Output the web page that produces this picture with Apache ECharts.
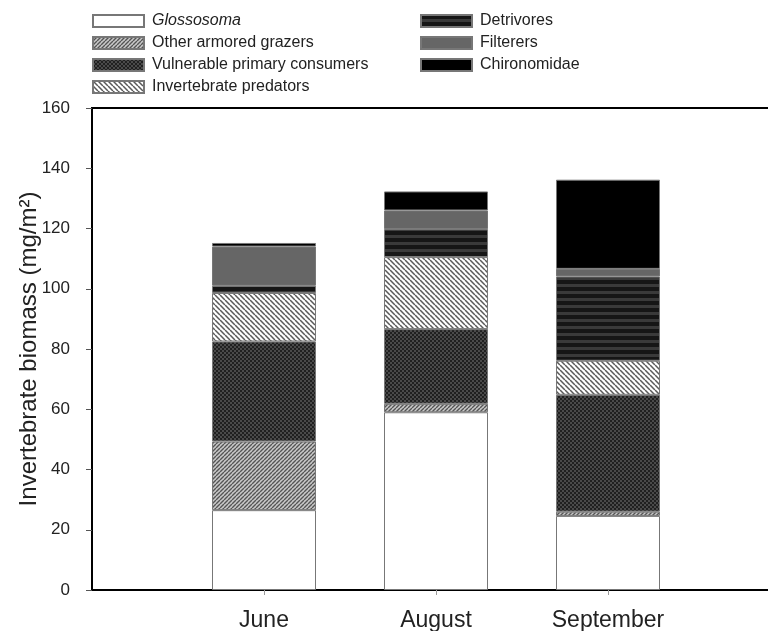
<!DOCTYPE html>
<html>
<head>
<meta charset="utf-8">
<script src="https://cdn.jsdelivr.net/npm/echarts@6/dist/echarts.min.js"></script>
<style>
  html, body { margin: 0; padding: 0; background: #fff; }
  #chart { width: 768px; height: 631px; }
</style>
</head>
<body>
<div id="chart"></div>
<script>
  // data (mg/m2)
  var months = ['June', 'August', 'September']
  var glossosoma = [26.5, 59.0, 24.6]
  var otherGrazers = [22.8, 2.8, 1.4]
  var vulnerable = [33.2, 24.8, 38.8]
  var predators = [16.1, 23.9, 11.3]
  var detrivores = [2.4, 9.3, 28.0]
  var filterers = [13.0, 6.2, 2.5]
  var chironomidae = [1.2, 6.3, 29.6]
  var yTicks = [0, 20, 40, 60, 80, 100, 120, 140, 160]

  var FONT = '"Liberation Sans", Arial, Helvetica, sans-serif'

  // small canvas tiles used as fill patterns
  function tile(w, h, draw) {
    var c = document.createElement('canvas')
    c.width = w
    c.height = h
    var ctx = c.getContext('2d')
    draw(ctx, w, h)
    return {image: c, repeat: 'repeat'}
  }

  // diagonal lines, dir 1 = "/", dir -1 = "\"
  function diag(bg, fg, s, lw, dir) {
    return tile(s, s, function (ctx, w, h) {
      ctx.fillStyle = bg
      ctx.fillRect(0, 0, w, h)
      ctx.strokeStyle = fg
      ctx.lineWidth = lw
      ctx.beginPath()
      for (var k = -1; k <= 1; k++) {
        if (dir > 0) {
          ctx.moveTo(k * s, s)
          ctx.lineTo(k * s + s, 0)
        } else {
          ctx.moveTo(k * s, 0)
          ctx.lineTo(k * s + s, s)
        }
      }
      ctx.stroke()
    })
  }

  var patGrazers = diag('#c9c9c9', '#555', 4, 1.4, 1)
  var patPredators = diag('#ffffff', '#5a5a5a', 5, 1.5, -1)
  var patVulnerable = tile(4, 4, function (ctx) {
    ctx.fillStyle = '#202020'
    ctx.fillRect(0, 0, 4, 4)
    ctx.fillStyle = '#4a4a4a'
    ctx.fillRect(0, 0, 2, 2)
    ctx.fillRect(2, 2, 2, 2)
  })
  var patDetrivores = tile(4, 7, function (ctx) {
    ctx.fillStyle = '#161616'
    ctx.fillRect(0, 0, 4, 7)
    ctx.fillStyle = '#3a3a3a'
    ctx.fillRect(0, 4, 4, 3)
  })

  // category axis padded with empty slots so the bars sit at 1,2,3 of 0..4
  var cats = [''].concat(months).concat([''])
  function pad(arr) {
    return [null].concat(arr).concat([null])
  }

  function barSeries(name, data, fill) {
    return {
      name: name,
      type: 'bar',
      stack: 'total',
      barWidth: 104,
      data: pad(data),
      itemStyle: {
        color: fill,
        borderColor: '#777',
        borderWidth: 1
      },
      emphasis: {disabled: true}
    }
  }

  var legendText = {
    fontFamily: FONT,
    fontSize: 16,
    color: '#222',
    lineHeight: 16,
    padding: [0, 0, 0, 3],
    rich: {
      i: {fontFamily: FONT, fontSize: 16, fontStyle: 'italic', color: '#222'}
    }
  }
  function legendFmt(name) {
    return name === 'Glossosoma' ? '{i|' + name + '}' : name
  }

  var myChart = echarts.init(document.getElementById('chart'))
  var option = {
    animation: false,
    textStyle: {fontFamily: FONT},
    legend: [{
      orient: 'vertical',
      left: 87,
      top: 8,
      icon: 'rect',
      itemWidth: 51,
      itemHeight: 12,
      itemGap: 6,
      selectedMode: false,
      formatter: legendFmt,
      textStyle: legendText,
      data: ['Glossosoma', 'Other armored grazers', 'Vulnerable primary consumers', 'Invertebrate predators']
    }, {
      orient: 'vertical',
      left: 415,
      top: 8,
      icon: 'rect',
      itemWidth: 51,
      itemHeight: 12,
      itemGap: 6,
      selectedMode: false,
      textStyle: legendText,
      data: ['Detrivores', 'Filterers', 'Chironomidae']
    }],
    grid: {
      left: 92,
      width: 688,
      top: 108,
      bottom: 41,
      show: true,
      borderColor: '#000',
      borderWidth: 2,
      containLabel: false,
      outerBoundsMode: 'none'
    },
    xAxis: {
      type: 'category',
      data: cats,
      boundaryGap: false,
      axisLine: {lineStyle: {color: '#000', width: 2}},
      axisTick: {
        show: true,
        length: 5,
        interval: function (index, value) { return value !== '' },
        lineStyle: {color: '#999'}
      },
      axisLabel: {
        interval: 0,
        margin: 19,
        fontSize: 23,
        color: '#222',
        fontFamily: FONT
      },
      splitLine: {show: false}
    },
    yAxis: {
      type: 'value',
      min: yTicks[0],
      max: yTicks[yTicks.length - 1],
      interval: yTicks[1] - yTicks[0],
      name: 'Invertebrate biomass (mg/m²)',
      nameLocation: 'middle',
      nameGap: 51,
      nameMoveOverlap: false,
      nameTextStyle: {fontSize: 24, color: '#222', fontFamily: FONT},
      axisLine: {show: true, lineStyle: {color: '#000', width: 2}},
      axisTick: {show: true, length: 6, lineStyle: {color: '#555'}},
      axisLabel: {margin: 22, fontSize: 17, color: '#222', fontFamily: FONT},
      splitLine: {show: false}
    },
    series: [
      barSeries('Glossosoma', glossosoma, '#ffffff'),
      barSeries('Other armored grazers', otherGrazers, patGrazers),
      barSeries('Vulnerable primary consumers', vulnerable, patVulnerable),
      barSeries('Invertebrate predators', predators, patPredators),
      barSeries('Detrivores', detrivores, patDetrivores),
      barSeries('Filterers', filterers, '#666666'),
      barSeries('Chironomidae', chironomidae, '#000000')
    ]
  }
  myChart.setOption(option)
</script>
</body>
</html>
